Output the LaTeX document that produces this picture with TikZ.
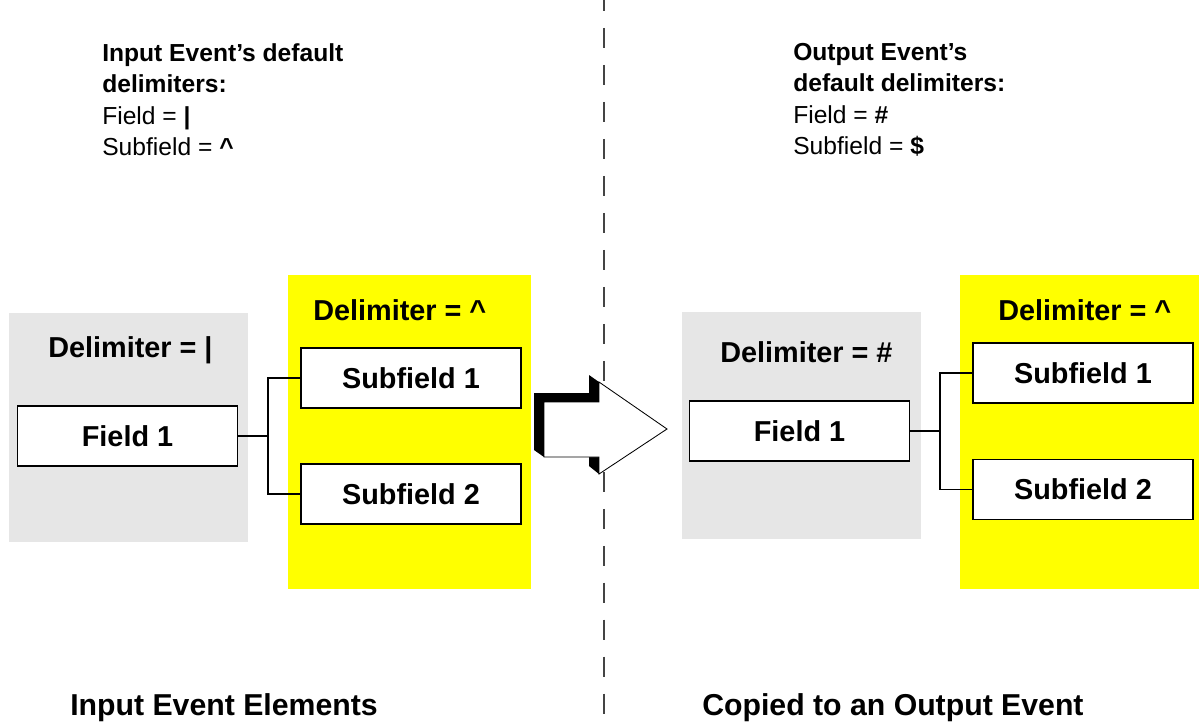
\documentclass[tikz,border=0pt]{standalone}
\usepackage{fontspec}
\setmainfont{Liberation Sans}
\usepackage{tikz}
\usetikzlibrary{arrows.meta, positioning, calc}
\definecolor{panelgray}{HTML}{E6E6E6}
\definecolor{panelyellow}{HTML}{FFFF00}
\definecolor{dashgray}{HTML}{444444}
\tikzset{
  panel/.style={inner sep=0pt, outer sep=0pt},
  fieldbox/.style={draw, fill=white, line width=1pt, inner sep=0pt,
    minimum width=5.5cm, minimum height=1.5cm,
    font=\fontsize{20.5}{24}\selectfont\bfseries},
  delimlabel/.style={anchor=base west, inner sep=0pt,
    font=\fontsize{20.5}{24}\selectfont\bfseries},
  notelabel/.style={anchor=north west, inner sep=0pt, align=left,
    font=\fontsize{17.5}{22.4}\selectfont},
  caption/.style={anchor=base west, inner sep=0pt,
    font=\fontsize{21.5}{26}\selectfont\bfseries},
  link/.style={line width=0.8pt}
}
\begin{document}
\begin{tikzpicture}[x=0.025cm, y=-0.025cm]
  \useasboundingbox (0,0) rectangle (1199,725);
  % separator
  \draw[dashgray, line width=1pt, dash pattern=on 14.2pt off 12.1pt,
        dash phase=6.4pt] (604,0) -- (604,725);

  % left side: input event
  \node[panel, fill=panelgray, minimum width=5.975cm, minimum height=5.725cm]
    (grayL) at (128.5,427.5) {};
  \node[panel, fill=panelyellow, minimum width=6.075cm, minimum height=7.85cm]
    (yellowL) at (409.5,432) {};
  \node[delimlabel] (delimL) at (48,357) {Delimiter = |};
  \node[delimlabel] (subdelimL) at (313,320) {Delimiter = \textasciicircum};
  \node[fieldbox] (fieldL) at (127.5,436) {Field 1};
  \node[fieldbox] (subL1) at (411,378) {Subfield 1};
  \node[fieldbox] (subL2) at (411,494) {Subfield 2};
  \coordinate (jL) at (268,436);
  \draw[link] (fieldL.east) -- (jL) |- (subL1.west);
  \draw[link] (jL) |- (subL2.west);

  % right side: output event
  \node[panel, fill=panelgray, minimum width=5.975cm, minimum height=5.675cm]
    (grayR) at (801.5,425.5) {};
  \node[panel, fill=panelyellow, minimum width=5.975cm, minimum height=7.85cm]
    (yellowR) at (1079.5,432) {};
  \node[delimlabel] (delimR) at (720,362) {Delimiter = \#};
  \node[delimlabel] (subdelimR) at (998,320) {Delimiter = \textasciicircum};
  \node[fieldbox] (fieldR) at (799.5,431) {Field 1};
  \node[fieldbox] (subR1) at (1083,373) {Subfield 1};
  \node[fieldbox] (subR2) at (1083,489.5) {Subfield 2};
  \coordinate (jR) at (940,431);
  \draw[link] (fieldR.east) -- (jR) |- (subR1.west);
  \draw[link] (jR) |- (subR2.west);

  % copy arrow with shadow
  \fill[black] (534,393) -- (589,393) -- (589,375) -- (599,382) -- (599,402)
    -- (544,402) -- (544,457) -- (534,450) -- cycle;
  \fill[black] (589,457) -- (599,457) -- (599,474) -- (589,466) -- cycle;
  \draw[fill=white, line width=0.6pt] (544,402) -- (599,402) -- (599,382)
    -- (667,429) -- (599,474) -- (599,457) -- (544,457) -- cycle;

  % delimiter notes
  \node[notelabel] (noteL) at (102,43)
    {\textbf{Input Event’s default}\\
     \textbf{delimiters:}\\
     Field = \textbf{|}\\
     Subfield = \textbf{\textasciicircum}};
  \node[notelabel] (noteR) at (793,43)
    {\textbf{Output Event’s}\\
     \textbf{default delimiters:}\\
     Field = \textbf{\#}\\
     Subfield = \textbf{\$}};

  % captions
  \node[caption] (capL) at (70,715) {Input Event Elements};
  \node[caption] (capR) at (702,715) {Copied to an Output Event};
\end{tikzpicture}
\end{document}
